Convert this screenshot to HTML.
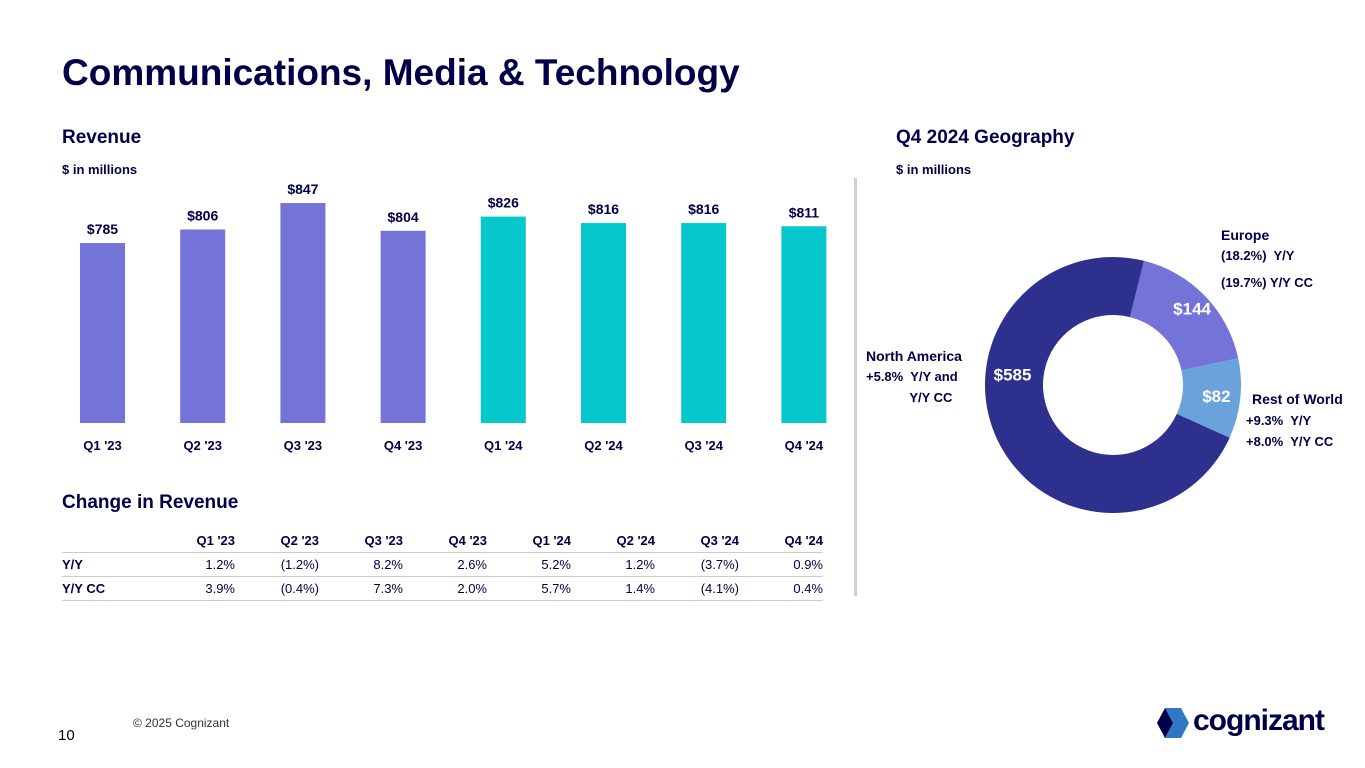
<!DOCTYPE html>
<html><head><meta charset="utf-8"><style>
body{margin:0;width:1365px;height:768px;background:#fff;font-family:"Liberation Sans",sans-serif;color:#000048;position:relative;overflow:hidden}
.a{position:absolute;white-space:nowrap}
table{border-collapse:collapse;font-size:13px}
td{height:23px;text-align:right;padding:0;width:84px}
td:first-child{text-align:left;width:89px;font-weight:bold}
</style></head><body>
<div class="a" style="left:62px;top:52px;font-size:37px;font-weight:bold">Communications, Media &amp; Technology</div>
<div class="a" style="left:62px;top:127px;font-size:19px;font-weight:bold">Revenue</div>
<div class="a" style="left:62px;top:162px;font-size:13px;font-weight:bold">$ in millions</div>
<div class="a" style="left:896px;top:127px;font-size:19px;font-weight:bold">Q4 2024 Geography</div>
<div class="a" style="left:896px;top:162px;font-size:13px;font-weight:bold">$ in millions</div>
<div class="a" style="left:854px;top:178px;width:3px;height:418px;background:#d0d0d0"></div>
<svg class="a" style="left:0;top:0" width="850" height="470" id="bars"></svg>
<div class="a" style="left:62px;top:492px;font-size:19px;font-weight:bold">Change in Revenue</div>
<table class="a" style="left:62px;top:529px">
<tr style="font-weight:bold;border-bottom:1px solid #ccc"><td></td><td>Q1 '23</td><td>Q2 '23</td><td>Q3 '23</td><td>Q4 '23</td><td>Q1 '24</td><td>Q2 '24</td><td>Q3 '24</td><td>Q4 '24</td></tr>
<tr style="border-bottom:1px solid #ccc"><td>Y/Y</td><td>1.2%</td><td>(1.2%)</td><td>8.2%</td><td>2.6%</td><td>5.2%</td><td>1.2%</td><td>(3.7%)</td><td>0.9%</td></tr>
<tr style="border-bottom:1px solid #ccc"><td>Y/Y CC</td><td>3.9%</td><td>(0.4%)</td><td>7.3%</td><td>2.0%</td><td>5.7%</td><td>1.4%</td><td>(4.1%)</td><td>0.4%</td></tr>
</table>
<svg class="a" style="left:0;top:0" width="1365" height="768" id="donut"></svg>
<div class="a" style="left:1221px;top:225px;font-size:14px;font-weight:bold;line-height:20px">Europe<br><span style="font-size:13px">(18.2%)&nbsp; Y/Y</span><br><span style="font-size:13px;line-height:34px">(19.7%) Y/Y CC</span></div>
<div class="a" style="left:866px;top:346px;font-size:14px;font-weight:bold;line-height:20px">North America<br><span style="font-size:13px">+5.8%&nbsp; Y/Y and<br>&nbsp;&nbsp;&nbsp;&nbsp;&nbsp;&nbsp;&nbsp;&nbsp;&nbsp;&nbsp;&nbsp;&nbsp;Y/Y CC</span></div>
<div class="a" style="left:1252px;top:389px;font-size:14px;font-weight:bold;line-height:21px">Rest of World<br><span style="font-size:13px;margin-left:-6px">+9.3%&nbsp; Y/Y</span><br><span style="font-size:13px;margin-left:-6px">+8.0%&nbsp; Y/Y CC</span></div>
<div class="a" style="left:133px;top:716px;font-size:12px;color:#333">© 2025 Cognizant</div>
<div class="a" style="left:58px;top:727px;font-size:15px;color:#000">10</div>
<div class="a" style="left:1155px;top:706px">
<svg width="36" height="34" style="position:absolute;left:0;top:0"><polygon points="10,2 26,2 34,17 26,32 10,32 18,17" fill="#2f78c4"/><polygon points="2,17 10,2 18,17 10,32" fill="#000048"/></svg>
<span style="position:absolute;left:38px;top:-2px;font-size:30px;font-weight:bold;color:#000048;letter-spacing:-1px">cognizant</span></div>
<script>
const quarters=["Q1 '23","Q2 '23","Q3 '23","Q4 '23","Q1 '24","Q2 '24","Q3 '24","Q4 '24"];
const revenue=[785,806,847,804,826,816,816,811];
const geoNames=["Europe","Rest of World","North America"];
const geoValues=[144,82,585];
const NS="http://www.w3.org/2000/svg";
function mk(p,t,a){const e=document.createElementNS(NS,t);for(const k in a)e.setAttribute(k,a[k]);p.appendChild(e);return e;}
const bs=document.getElementById('bars');
const base=423,x0=80,step=100.2,bw=45;
const y=v=>base-(v-506)*0.645;
revenue.forEach((v,i)=>{
 const x=x0+i*step;
 const r=mk(bs,'rect',{x:x,y:y(v),width:bw,height:base-y(v),fill:i<4?'#7373d8':'#06c7cc'});
 
 
 const t=mk(bs,'text',{x:x+bw/2,y:y(v)-9,'text-anchor':'middle','font-size':14,'font-weight':'bold',fill:'#000048'});
 t.textContent='$'+v;
 
 
 const q=mk(bs,'text',{x:x+bw/2,y:450,'text-anchor':'middle','font-size':13,'font-weight':'bold',fill:'#000048'});
 q.textContent=quarters[i];
 
 
});
const ds=document.getElementById('donut');
const cx=1113,cy=385,R=128,r0=70,tot=geoValues.reduce((a,b)=>a+b,0);
const cols=['#7373d8','#6aa2dc','#2e308e'];
let a=14;
geoValues.forEach((v,i)=>{
 const sw=v/tot*360,a1=a,a2=a+sw;
 const P=(rr,ang)=>[cx+rr*Math.sin(ang*Math.PI/180),cy-rr*Math.cos(ang*Math.PI/180)];
 const lg=sw>180?1:0;
 const [x1,y1]=P(R,a1),[x2,y2]=P(R,a2),[x3,y3]=P(r0,a2),[x4,y4]=P(r0,a1);
 const p=mk(ds,'path',{d:`M${x1},${y1}A${R},${R} 0 ${lg} 1 ${x2},${y2}L${x3},${y3}A${r0},${r0} 0 ${lg} 0 ${x4},${y4}Z`,fill:cols[i]});
 
 
 const mid=(a1+a2)/2;
 const [lx,ly]=i==2?P(101,276):P(i==0?110:104,mid);
 const t=mk(ds,'text',{x:lx,y:ly+6,'text-anchor':'middle','font-size':17,'font-weight':'bold',fill:'#fff'});
 t.textContent='$'+v;
 
 
 a=a2;
});
</script>
</body></html>
